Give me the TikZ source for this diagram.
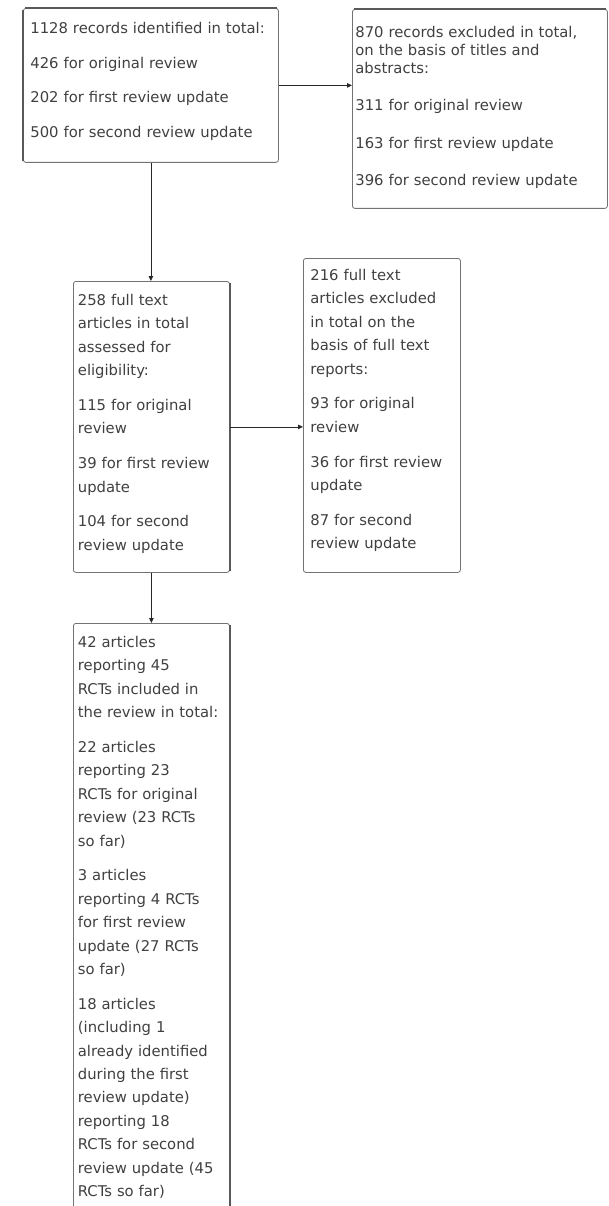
\documentclass[tikz,border=0pt]{standalone}
\usepackage{fontspec}
\setmainfont{DejaVu Sans}
\usetikzlibrary{arrows.meta}

\begin{document}
\begin{tikzpicture}[
  x=1pt, y=-1pt,
  rec/.style={draw=black!55, line width=0.8pt, rounded corners=2.5pt, anchor=north west,
              align=left, text=black!75, font=\fontsize{14.8}{23.4}\selectfont,
              text height=11pt, inner xsep=4.5pt},
  tight/.style={font=\fontsize{14.8}{18}\selectfont},
  fl/.style={-{Triangle[length=5pt, width=4.5pt]}, draw=black!85, line width=0.8pt},
  rim/.style={draw=black!65, line width=1.5pt, shorten <=2pt, shorten >=2pt},
]

\useasboundingbox (0,0) rectangle (608,1206);
\clip (0,0) rectangle (608,1206);

\def\rA{8}    % top row: identified, excluded on titles
\def\rB{258}  % middle row: full text assessed, excluded on full text
\def\rC{623}  % bottom: included (runs off the page)

% ============ top row =======================================================
\node[rec, inner xsep=7pt, text width=241pt, inner ysep=14pt, text depth=115pt]
  (ident) at (23,\rA) {1128 records identified in total:\\[11.4pt]
  426 for original review\\[11.4pt]
  202 for first review update\\[11.4pt]
  500 for second review update};

\node[rec, tight, inner xsep=3pt, text width=249pt, inner ysep=17pt, text depth=154pt]
  (excl) at (352,\rA+1) {870 records excluded in total,\\
  on the basis of titles and\\
  abstracts:\\[19.5pt]
  311 for original review\\[19.5pt]
  163 for first review update\\[19.5pt]
  396 for second review update};

% ============ middle row ====================================================
\node[rec, text width=147pt, inner ysep=13pt, text depth=254pt]
  (elig) at (73,\rB+23) {258 full text\\
  articles in total\\
  assessed for\\
  eligibility:\\[11.4pt]
  115 for original\\
  review\\[11.4pt]
  39 for first review\\
  update\\[11.4pt]
  104 for second\\
  review update};

\node[rec, inner xsep=7pt, text width=143pt, inner ysep=11pt, text depth=281pt]
  (ftex) at (303,\rB) {216 full text\\
  articles excluded\\
  in total on the\\
  basis of full text\\
  reports:\\[11.4pt]
  93 for original\\
  review\\[11.4pt]
  36 for first review\\
  update\\[11.4pt]
  87 for second\\
  review update};

% ============ bottom ========================================================
\node[rec, text width=147pt, inner ysep=13pt, text depth=570pt]
  (incl) at (73,\rC) {42 articles\\
  reporting 45\\
  RCTs included in\\
  the review in total:\\[11.4pt]
  22 articles\\
  reporting 23\\
  RCTs for original\\
  review (23 RCTs\\
  so far)\\[11.4pt]
  3 articles\\
  reporting 4 RCTs\\
  for first review\\
  update (27 RCTs\\
  so far)\\[11.4pt]
  18 articles\\
  (including 1\\
  already identified\\
  during the first\\
  review update)\\
  reporting 18\\
  RCTs for second\\
  review update (45\\
  RCTs so far)};

% ============ darker box edges ==============================================
\draw[rim] (ident.north west) -- (ident.north east);
\draw[rim] (ident.north west) -- (ident.south west);
\draw[rim] (excl.north west)  -- (excl.north east);
\draw[rim] (elig.north east)  -- (elig.south east);
\draw[rim] (incl.north east)  -- (incl.south east);

% ============ flows =========================================================
\draw[fl] (ident.east)  -- (ident.east -| excl.west);
\draw[fl] (ident.south) -- (ident.south |- elig.north);
\draw[fl] (elig.east)   -- (elig.east -| ftex.west);
\draw[fl] (elig.south)  -- (incl.north);

\end{tikzpicture}
\end{document}
